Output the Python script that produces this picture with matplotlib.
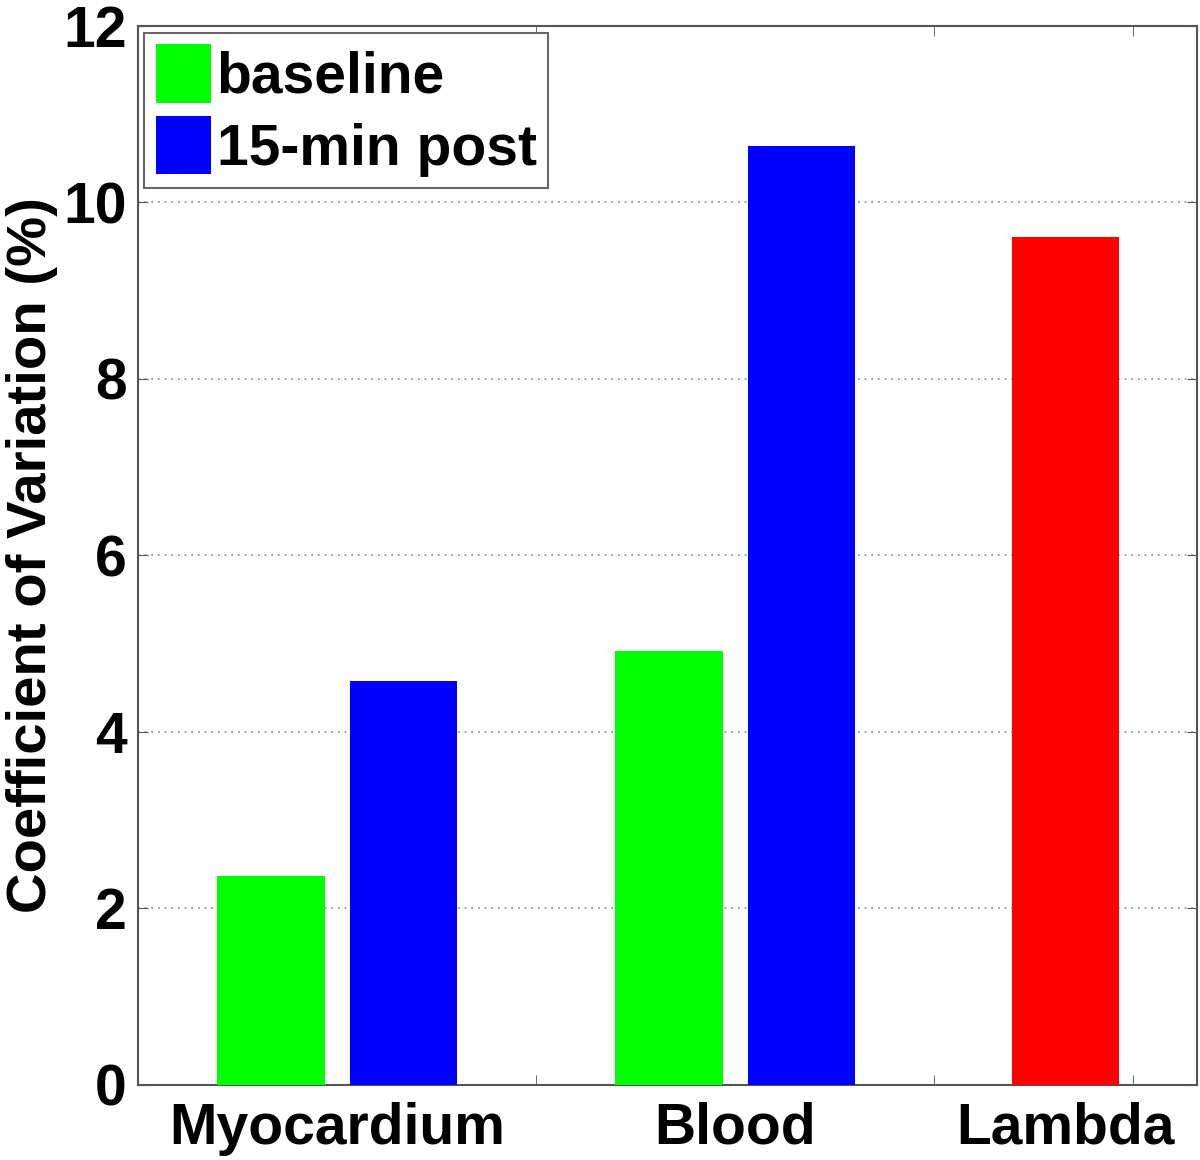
import matplotlib
matplotlib.use("Agg")
import matplotlib.pyplot as plt
import numpy as np

categories = ["Myocardium", "Blood", "Lambda"]
baseline = [2.37, 4.91]
post15 = [4.58, 10.64]
lambda_val = [9.60]
yticks = [0, 2, 4, 6, 8, 10, 12]

plt.rcParams['font.family'] = ['Liberation Sans', 'DejaVu Sans']
plt.rcParams['font.weight'] = 'bold'

fig = plt.figure(figsize=(12, 11.6), dpi=100)
ax = fig.add_axes([0.115, 0.0647, 0.8825, 0.9133])

centers = [1.0, 3.0, 4.66]
w = 0.54
off = 0.333
ax.bar([centers[0] - off, centers[1] - off], baseline, width=w, color='#00FF00', label='baseline', zorder=3)
ax.bar([centers[0] + off, centers[1] + off], post15, width=w, color='#0000FF', label='15-min post', zorder=3)
ax.bar([centers[2]], lambda_val, width=w, color='#FF0000', zorder=3)

ax.set_xlim(0, 5.32)
ax.set_ylim(0, 12)
ax.set_yticks(yticks)
ax.set_yticklabels([str(v) for v in yticks], fontsize=41, fontweight='bold')
ax.set_xticks(centers)
ax.set_xticklabels(categories, fontsize=41, fontweight='bold')
ax.tick_params(axis='x', which='major', length=0, pad=12)
ax.set_xticks([1, 2, 3, 4, 5], minor=True)
ax.tick_params(axis='x', which='minor', direction='in', length=7, top=True, bottom=True, color='#555')
ax.tick_params(axis='y', which='major', direction='in', length=7, left=True, right=True, pad=8, color='#555')

ax.set_ylabel("Coefficient of Variation (%)", fontsize=40.5, fontweight='bold', labelpad=4)

ax.yaxis.grid(True, linestyle=(0, (1, 3)), color='#888', linewidth=1.2, zorder=0)
ax.set_axisbelow(True)
for s in ax.spines.values():
    s.set_color('#555')
    s.set_linewidth(1.5)

leg = ax.legend(loc='upper left', bbox_to_anchor=(0.006, 0.993), prop={'weight': 'bold', 'size': 41},
                handlelength=0.97, handleheight=1.2, handletextpad=0.1, labelspacing=0.2,
                borderpad=0.2, borderaxespad=0.0, fancybox=False, framealpha=1, edgecolor='#666')
leg.get_frame().set_linewidth(1.5)

fig.savefig("out.png", dpi=100)
